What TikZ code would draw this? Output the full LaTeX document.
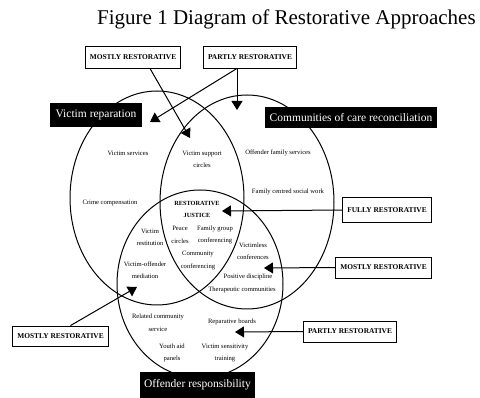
\documentclass[tikz,border=0pt]{standalone}
\usepackage{fontspec}
\setmainfont{Liberation Serif}
\usetikzlibrary{arrows.meta}

\tikzset{
  blackbox/.style={fill=black, text=white, font=\fontsize{11.5}{13}\selectfont, minimum height=24pt, inner xsep=4pt},
  ratebox/.style={draw, line width=0.9pt, font=\bfseries\fontsize{7.4}{8}\selectfont, minimum height=22pt, inner xsep=4.5pt},
  item/.style={font=\fontsize{6.6}{12.5}\selectfont, align=center, inner sep=0pt},
  pointer/.style={-{Triangle[width=11pt,length=9pt]}, line width=1pt},
  ring/.style={line width=1pt},
}

\begin{document}
\begin{tikzpicture}[x=1pt, y=-1pt]
    \useasboundingbox (0,0) rectangle (480,398);

    % Title
    \node[anchor=base west, inner sep=0pt, font=\fontsize{21}{24}\selectfont] (title) at (97,25) {Figure 1 Diagram of Restorative Approaches};

    % Draw the three circles
    \draw[ring] (157,198) ellipse [x radius=87, y radius=107];
    \draw[ring] (247,202) ellipse [x radius=87, y radius=107];
    \draw[ring] (200,284) ellipse [x radius=83, y radius=94];

    % Circle labels
    \node[blackbox, minimum width=92pt] (victim) at (96,115) {Victim reparation};
    \node[blackbox, minimum width=172pt, minimum height=21pt] (communities) at (351,118) {Communities of care reconciliation};
    \node[blackbox, minimum width=111pt, minimum height=26pt] (offender) at (197.5,385) {Offender responsibility};

    % Rating boxes
    \node[ratebox] (mostlyA) at (133,57) {MOSTLY RESTORATIVE};
    \node[ratebox] (partlyA) at (250,57) {PARTLY RESTORATIVE};
    \node[ratebox, minimum height=25pt] (fully) at (387,210) {FULLY RESTORATIVE};
    \node[ratebox, minimum height=21pt] (mostlyB) at (383.5,267.5) {MOSTLY RESTORATIVE};
    \node[ratebox, minimum height=21pt] (partlyB) at (350,331.5) {PARTLY RESTORATIVE};
    \node[ratebox, minimum height=20pt] (mostlyC) at (60.5,336) {MOSTLY RESTORATIVE};

    % Arrow tips
    \coordinate (tipSupport) at (190,138);
    \coordinate (tipVictim) at (150,122);
    \coordinate (tipCommunities) at (237,110);
    \coordinate (tipJustice) at (222,211);
    \coordinate (tipVictimless) at (264,268);
    \coordinate (tipBoards) at (235,332);
    \coordinate (tipMediation) at (137,287);

    % Draw pointers
    \draw[pointer] ([xshift=17pt]mostlyA.south) -- (tipSupport);
    \draw[pointer] ([xshift=-13pt]partlyA.south) -- (tipVictim);
    \draw[pointer] ([xshift=-13pt]partlyA.south) -- (tipCommunities);
    \draw[pointer] (fully.west) -- (tipJustice);
    \draw[pointer] (mostlyB.west) -- (tipVictimless);
    \draw[pointer] (partlyB.west) -- (tipBoards);
    \draw[pointer] ([xshift=10pt]mostlyC.north) -- (tipMediation);

    % Approaches
    \node[item] (vServices) at (128,153) {Victim services};
    \node[item] (vSupport) at (202,159.5) {Victim support\\circles};
    \node[item] (oFamily) at (278,153) {Offender family services};
    \node[item] (famSocial) at (288,192) {Family centred social work};
    \node[item] (crimeComp) at (110,203) {Crime compensation};
    \node[item, font=\bfseries\fontsize{6.3}{12}\selectfont] (justice) at (197,209) {RESTORATIVE\\JUSTICE};
    \node[item] (peace) at (180,235) {Peace\\circles};
    \node[item] (famGroup) at (215,235) {Family group\\conferencing};
    \node[item] (community) at (198,260.5) {Community\\conferencing};
    \node[item] (vRestitution) at (150,237.5) {Victim\\restitution};
    \node[item] (vOffender) at (145,270) {Victim-offender\\mediation};
    \node[item] (victimless) at (253,251) {Victimless\\conferences};
    \node[item] (posDiscipline) at (248,277) {Positive discipline};
    \node[item] (therapeutic) at (242,290) {Therapeutic communities};
    \node[item] (relatedService) at (158,322.5) {Related community\\service};
    \node[item] (repBoards) at (232,322) {Reparative boards};
    \node[item] (youthPanels) at (172,353) {Youth aid\\panels};
    \node[item] (vSensitivity) at (225,353) {Victim sensitivity\\training};
\end{tikzpicture}
\end{document}
